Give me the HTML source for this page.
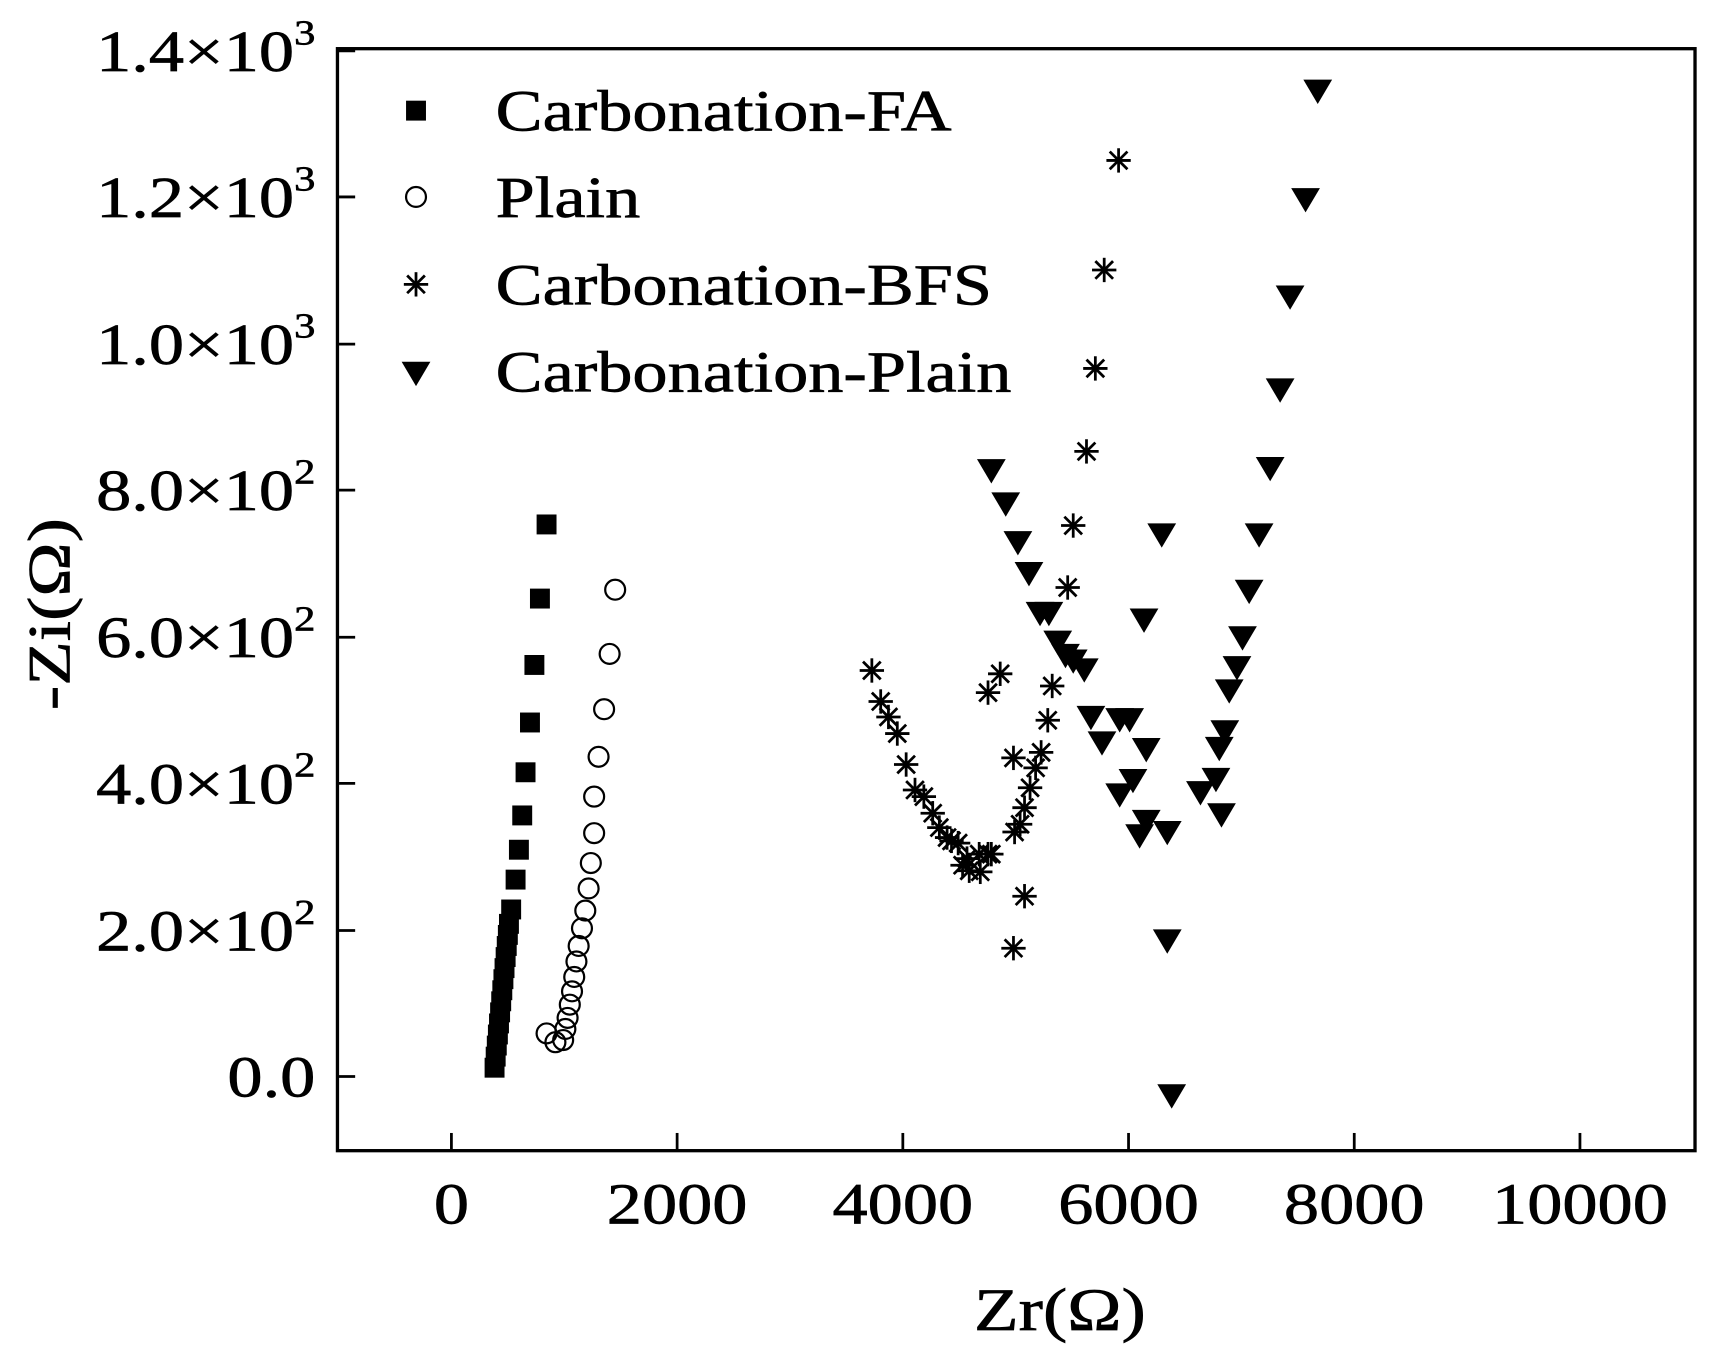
<!DOCTYPE html>
<html><head><style>body{margin:0;background:#fff}svg{display:block}</style></head><body>
<svg width="1726" height="1362" viewBox="0 0 1560 1231" preserveAspectRatio="none" xmlns="http://www.w3.org/2000/svg" font-family="Liberation Serif, serif">
<defs>
<rect id="sq" x="-9" y="-9" width="18" height="18" fill="#000"/>
<circle id="ci" r="9" fill="none" stroke="#000" stroke-width="2"/>
<g id="as" stroke="#000" stroke-width="2.5"><line x1="-11" y1="0" x2="11" y2="0"/><line x1="0" y1="-11" x2="0" y2="11"/><line x1="-8" y1="-8" x2="8" y2="8"/><line x1="-8" y1="8" x2="8" y2="-8"/></g>
<path id="tr" d="M-13,-10 L13,-10 L0,12 Z" fill="#000"/>
</defs>
<rect x="305" y="44" width="1227" height="996" fill="none" stroke="#000" stroke-width="3"/>
<g stroke="#000" stroke-width="2.5">
<line x1="408" y1="1040" x2="408" y2="1024"/><line x1="612" y1="1040" x2="612" y2="1024"/><line x1="816" y1="1040" x2="816" y2="1024"/><line x1="1020" y1="1040" x2="1020" y2="1024"/><line x1="1224" y1="1040" x2="1224" y2="1024"/><line x1="1428" y1="1040" x2="1428" y2="1024"/>
<line x1="305" y1="973" x2="321" y2="973"/><line x1="305" y1="841" x2="321" y2="841"/><line x1="305" y1="708" x2="321" y2="708"/><line x1="305" y1="576" x2="321" y2="576"/><line x1="305" y1="443" x2="321" y2="443"/><line x1="305" y1="311" x2="321" y2="311"/><line x1="305" y1="178" x2="321" y2="178"/><line x1="305" y1="46" x2="321" y2="46"/>
</g>
<g font-size="53" text-anchor="middle" stroke="#000" stroke-width="0.6">
<text transform="translate(408 1106) scale(1.2 1)">0</text>
<text transform="translate(612 1106) scale(1.2 1)">2000</text>
<text transform="translate(816 1106) scale(1.2 1)">4000</text>
<text transform="translate(1020 1106) scale(1.2 1)">6000</text>
<text transform="translate(1224 1106) scale(1.2 1)">8000</text>
<text transform="translate(1428 1106) scale(1.2 1)">10000</text>
</g>
<g font-size="53" text-anchor="end" stroke="#000" stroke-width="0.6">
<text transform="translate(285 991) scale(1.2 1)">0.0</text>
<text transform="translate(285 859) scale(1.2 1)">2.0×10<tspan font-size="32" dy="-24">2</tspan></text>
<text transform="translate(285 726) scale(1.2 1)">4.0×10<tspan font-size="32" dy="-24">2</tspan></text>
<text transform="translate(285 594) scale(1.2 1)">6.0×10<tspan font-size="32" dy="-24">2</tspan></text>
<text transform="translate(285 461) scale(1.2 1)">8.0×10<tspan font-size="32" dy="-24">2</tspan></text>
<text transform="translate(285 329) scale(1.2 1)">1.0×10<tspan font-size="32" dy="-24">3</tspan></text>
<text transform="translate(285 196) scale(1.2 1)">1.2×10<tspan font-size="32" dy="-24">3</tspan></text>
<text transform="translate(285 64) scale(1.2 1)">1.4×10<tspan font-size="32" dy="-24">3</tspan></text>
</g>
<g stroke="#000" stroke-width="0.6">
<text transform="translate(958 1202) scale(1.2 1)" font-size="55" text-anchor="middle">Zr(Ω)</text>
<text transform="translate(63 555) rotate(-90) scale(1.2 1)" font-size="55" text-anchor="middle">-Zi(Ω)</text>
</g>
<use href="#sq" x="376" y="100"/><use href="#ci" x="376" y="178"/><use href="#as" x="376" y="257"/><use href="#tr" x="376" y="337"/>
<g font-size="53" stroke="#000" stroke-width="0.6">
<text transform="translate(448 118) scale(1.2 1)">Carbonation-FA</text>
<text transform="translate(448 196) scale(1.2 1)">Plain</text>
<text transform="translate(448 275) scale(1.2 1)">Carbonation-BFS</text>
<text transform="translate(448 354) scale(1.2 1)">Carbonation-Plain</text>
</g>
<g>
<use href="#sq" x="447" y="965"/><use href="#sq" x="448" y="955"/><use href="#sq" x="449" y="945"/><use href="#sq" x="450" y="935"/><use href="#sq" x="451" y="925"/><use href="#sq" x="452" y="915"/><use href="#sq" x="453" y="905"/><use href="#sq" x="454" y="895"/><use href="#sq" x="455" y="885"/><use href="#sq" x="456" y="875"/><use href="#sq" x="457" y="865"/><use href="#sq" x="458" y="855"/><use href="#sq" x="459" y="845"/><use href="#sq" x="460" y="835"/><use href="#sq" x="462" y="822"/><use href="#sq" x="466" y="795"/><use href="#sq" x="469" y="768"/><use href="#sq" x="472" y="737"/><use href="#sq" x="475" y="698"/><use href="#sq" x="479" y="653"/><use href="#sq" x="483" y="601"/><use href="#sq" x="488" y="541"/><use href="#sq" x="494" y="474"/>
</g>
<g>
<use href="#ci" x="494" y="934"/><use href="#ci" x="502" y="942"/><use href="#ci" x="509" y="940"/><use href="#ci" x="511" y="930"/><use href="#ci" x="513" y="920"/><use href="#ci" x="515" y="908"/><use href="#ci" x="517" y="896"/><use href="#ci" x="519" y="883"/><use href="#ci" x="521" y="869"/><use href="#ci" x="523" y="855"/><use href="#ci" x="526" y="839"/><use href="#ci" x="529" y="823"/><use href="#ci" x="532" y="803"/><use href="#ci" x="534" y="780"/><use href="#ci" x="537" y="753"/><use href="#ci" x="537" y="720"/><use href="#ci" x="541" y="684"/><use href="#ci" x="546" y="641"/><use href="#ci" x="551" y="591"/><use href="#ci" x="556" y="533"/>
</g>
<g>
<use href="#as" x="788" y="606"/><use href="#as" x="796" y="634"/><use href="#as" x="803" y="648"/><use href="#as" x="811" y="663"/><use href="#as" x="819" y="691"/><use href="#as" x="827" y="714"/><use href="#as" x="835" y="720"/><use href="#as" x="843" y="735"/><use href="#as" x="849" y="748"/><use href="#as" x="856" y="757"/><use href="#as" x="860" y="760"/><use href="#as" x="866" y="762"/><use href="#as" x="870" y="782"/><use href="#as" x="874" y="776"/><use href="#as" x="876" y="787"/><use href="#as" x="885" y="772"/><use href="#as" x="886" y="788"/><use href="#as" x="893" y="772"/><use href="#as" x="896" y="772"/><use href="#as" x="893" y="626"/><use href="#as" x="904" y="609"/><use href="#as" x="916" y="685"/><use href="#as" x="917" y="752"/><use href="#as" x="922" y="745"/><use href="#as" x="926" y="730"/><use href="#as" x="931" y="712"/><use href="#as" x="936" y="694"/><use href="#as" x="941" y="680"/><use href="#as" x="947" y="651"/><use href="#as" x="951" y="620"/><use href="#as" x="965" y="531"/><use href="#as" x="970" y="475"/><use href="#as" x="982" y="408"/><use href="#as" x="990" y="333"/><use href="#as" x="998" y="244"/><use href="#as" x="1011" y="145"/><use href="#as" x="926" y="810"/><use href="#as" x="916" y="857"/>
</g>
<g>
<use href="#tr" x="896" y="425"/><use href="#tr" x="909" y="455"/><use href="#tr" x="920" y="490"/><use href="#tr" x="930" y="518"/><use href="#tr" x="940" y="554"/><use href="#tr" x="948" y="554"/><use href="#tr" x="956" y="580"/><use href="#tr" x="963" y="592"/><use href="#tr" x="970" y="597"/><use href="#tr" x="980" y="605"/><use href="#tr" x="986" y="648"/><use href="#tr" x="996" y="671"/><use href="#tr" x="1012" y="650"/><use href="#tr" x="1012" y="718"/><use href="#tr" x="1021" y="650"/><use href="#tr" x="1024" y="705"/><use href="#tr" x="1030" y="755"/><use href="#tr" x="1036" y="677"/><use href="#tr" x="1036" y="742"/><use href="#tr" x="1055" y="752"/><use href="#tr" x="1050" y="483"/><use href="#tr" x="1034" y="560"/><use href="#tr" x="1055" y="850"/><use href="#tr" x="1059" y="990"/><use href="#tr" x="1085" y="716"/><use href="#tr" x="1099" y="704"/><use href="#tr" x="1102" y="676"/><use href="#tr" x="1104" y="736"/><use href="#tr" x="1107" y="661"/><use href="#tr" x="1111" y="624"/><use href="#tr" x="1118" y="603"/><use href="#tr" x="1123" y="576"/><use href="#tr" x="1129" y="534"/><use href="#tr" x="1138" y="483"/><use href="#tr" x="1148" y="423"/><use href="#tr" x="1157" y="352"/><use href="#tr" x="1166" y="268"/><use href="#tr" x="1180" y="180"/><use href="#tr" x="1191" y="82"/>
</g>
</svg>
</body></html>
